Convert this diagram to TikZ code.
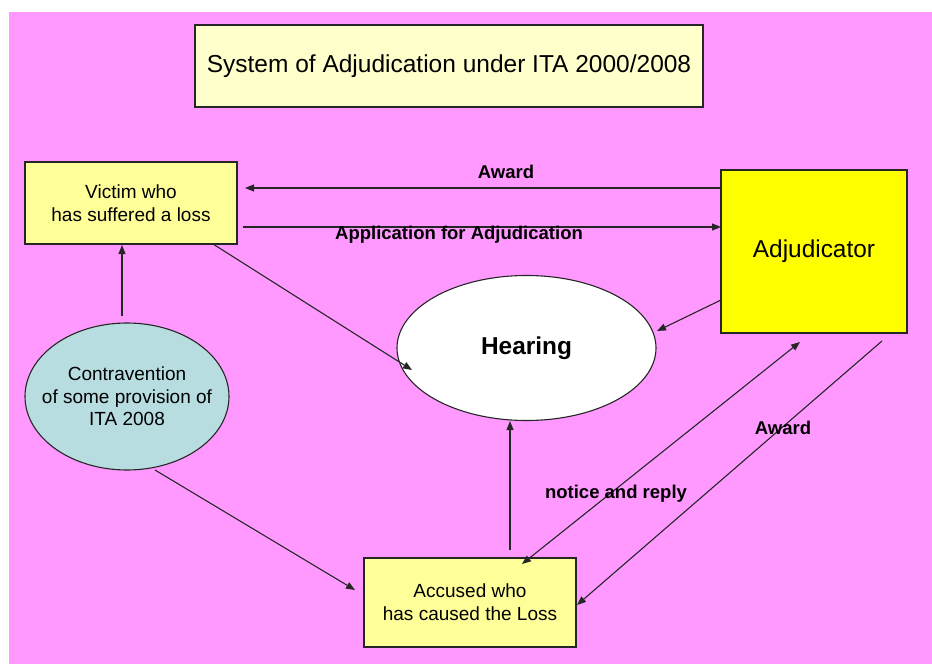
\documentclass[tikz,border=0pt]{standalone}
\usepackage{fontspec}
\setmainfont{Liberation Sans}
\usetikzlibrary{arrows.meta,shapes.geometric}
\definecolor{bgpink}{HTML}{FF99FF}
\definecolor{paleyellow}{HTML}{FFFFCC}
\definecolor{boxyellow}{HTML}{FFFF99}
\definecolor{adjyellow}{HTML}{FFFF00}
\definecolor{cyanfill}{HTML}{B7DDE0}
\begin{document}
\begin{tikzpicture}[x=1pt,y=-1pt,
  box/.style={draw=black!85, line width=1.1pt, inner sep=0pt, align=center},
  txt/.style={font=\fontsize{19}{23}\selectfont},
  lab/.style={font=\fontsize{18.5}{22}\selectfont\bfseries, inner sep=0pt},
  arr/.style={-{Triangle[length=9pt,width=7pt]}, line width=1.1pt, black!85},
  dblarr/.style={{Triangle[length=9pt,width=7pt]}-{Triangle[length=9pt,width=7pt]}, line width=1.1pt, black!85}]
\useasboundingbox (0,0) rectangle (932,664);
\fill[white] (0,0) rectangle (932,664);
\fill[bgpink] (9,12) rectangle (932,664);

% nodes
\node[box, fill=paleyellow, minimum width=508pt, minimum height=82pt,
      font=\fontsize{24.5}{29}\selectfont] (title) at (449,66)
      {System of Adjudication under ITA 2000/2008};
\node[box, fill=boxyellow, minimum width=212pt, minimum height=82pt, txt] (victim) at (131,203)
      {Victim who\\has suffered a loss};
\node[box, fill=adjyellow, minimum width=186pt, minimum height=163pt,
      font=\fontsize{24.4}{29}\selectfont] (adj) at (814,251.5) {Adjudicator};
\node[box, fill=boxyellow, minimum width=212pt, minimum height=89pt, txt] (accused) at (470,602.5)
      {Accused who\\has caused the Loss};
\node[box, ellipse, fill=white, minimum width=259pt, minimum height=145pt,
      font=\fontsize{24.4}{29}\selectfont\bfseries] (hearing) at (526.5,348) {Hearing};
\node[box, ellipse, fill=cyanfill, minimum width=204pt, minimum height=147pt,
      inner xsep=-20pt, font=\fontsize{19}{22.5}\selectfont] (contra) at (127,396.5)
      {Contravention\\of some provision of\\ITA 2008};

% connector end points
\coordinate (awS) at (721,188);   \coordinate (awE) at (245,188);
\coordinate (apS) at (243,227);   \coordinate (apE) at (721,227);
\coordinate (vhS) at (213,244);   \coordinate (vhE) at (412,370);
\coordinate (ahS) at (721,300);   \coordinate (ahE) at (657,331);
\coordinate (cvS) at (122,316);   \coordinate (cvE) at (122,245);
\coordinate (caS) at (155,470);   \coordinate (caE) at (355,590);
\coordinate (xhS) at (510,550);   \coordinate (xhE) at (510,421);
\coordinate (nrS) at (522,564);   \coordinate (nrE) at (800,342);
\coordinate (a2S) at (882,341);   \coordinate (a2E) at (577,605);

% connectors
\draw[arr] (awS) -- (awE);
\draw[arr] (apS) -- (apE);
\draw[arr] (vhS) -- (vhE);
\draw[arr] (ahS) -- (ahE);
\draw[arr] (cvS) -- (cvE);
\draw[arr] (caS) -- (caE);
\draw[arr] (xhS) -- (xhE);
\draw[dblarr] (nrS) -- (nrE);
\draw[arr] (a2S) -- (a2E);

% labels
\node[lab] (lAward) at (506,172) {Award};
\node[lab] (lApp) at (459,235) {Application for Adjudication};
\node[lab] (lNotice) at (616,494) {notice and reply};
\node[lab] (lAward2) at (783,428) {Award};
\end{tikzpicture}
\end{document}
